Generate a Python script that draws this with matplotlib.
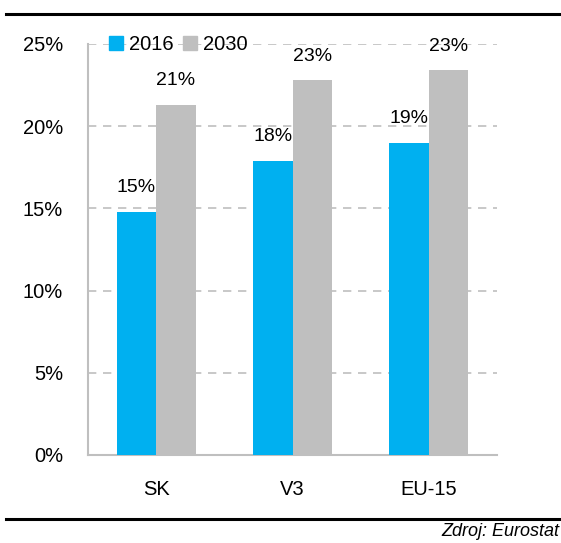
import matplotlib

matplotlib.use("Agg")

import matplotlib.pyplot as plt
import numpy as np
from matplotlib.lines import Line2D

plt.rcParams["font.family"] = ["Liberation Sans", "DejaVu Sans"]

categories = ["SK", "V3", "EU-15"]
years = ["2016", "2030"]
share_2016 = [14.8, 17.9, 19.0]
share_2030 = [21.3, 22.8, 23.4]

colors = ["#00b0f0", "#bfbfbf"]

fig = plt.figure(figsize=(5.61, 5.43), dpi=100)
ax = fig.add_axes([88 / 561, 1 - 455 / 543, 409 / 561, 411 / 543])

x = np.arange(len(categories))
width = 0.29

bars_2016 = ax.bar(x - width / 2, share_2016, width, color=colors[0], zorder=3)
bars_2030 = ax.bar(x + width / 2, share_2030, width, color=colors[1], zorder=3)

for bars in (bars_2016, bars_2030):
    for bar in bars:
        ax.text(
            bar.get_x() + bar.get_width() / 2,
            bar.get_height() + 0.95,
            f"{bar.get_height():.0f}%",
            ha="center",
            va="bottom",
            fontsize=14,
            zorder=4,
        )

ax.set_xlim(-0.5, 2.5)
ax.set_ylim(0, 25)
ax.set_yticks(range(0, 26, 5))
ax.set_yticklabels([f"{v}%" for v in range(0, 26, 5)], fontsize=14.5)
ax.set_xticks(x)
ax.set_xticklabels(categories, fontsize=14.5)
ax.tick_params(axis="both", length=0)
ax.tick_params(axis="y", pad=18)
ax.tick_params(axis="x", pad=18)

ax.yaxis.grid(True, color="#bfbfbf", linestyle=(0, (5, 4)), linewidth=1.2, zorder=0)
for side in ("top", "right"):
    ax.spines[side].set_visible(False)
for side in ("left", "bottom"):
    ax.spines[side].set_color("#bfbfbf")
    ax.spines[side].set_linewidth(1.5)

handles = [
    Line2D([], [], marker="s", linestyle="none", markersize=9.5, color=c)
    for c in colors
]
ax.legend(
    handles,
    years,
    loc="upper left",
    bbox_to_anchor=(0.0, 1.065),
    ncol=2,
    frameon=False,
    fontsize=14.5,
    handletextpad=0.15,
    columnspacing=0.3,
    handlelength=1.0,
)

# horizontal rules framing the chart
fig.add_artist(Line2D([6 / 561, 1], [1 - 14 / 543] * 2, color="black", linewidth=2.2))
fig.add_artist(Line2D([6 / 561, 1], [1 - 519 / 543] * 2, color="black", linewidth=2.2))

fig.text(559 / 561, 1 - 532 / 543, "Zdroj: Eurostat", ha="right", va="center",
         fontsize=13, style="italic")

fig.savefig("out.png", dpi=100)
